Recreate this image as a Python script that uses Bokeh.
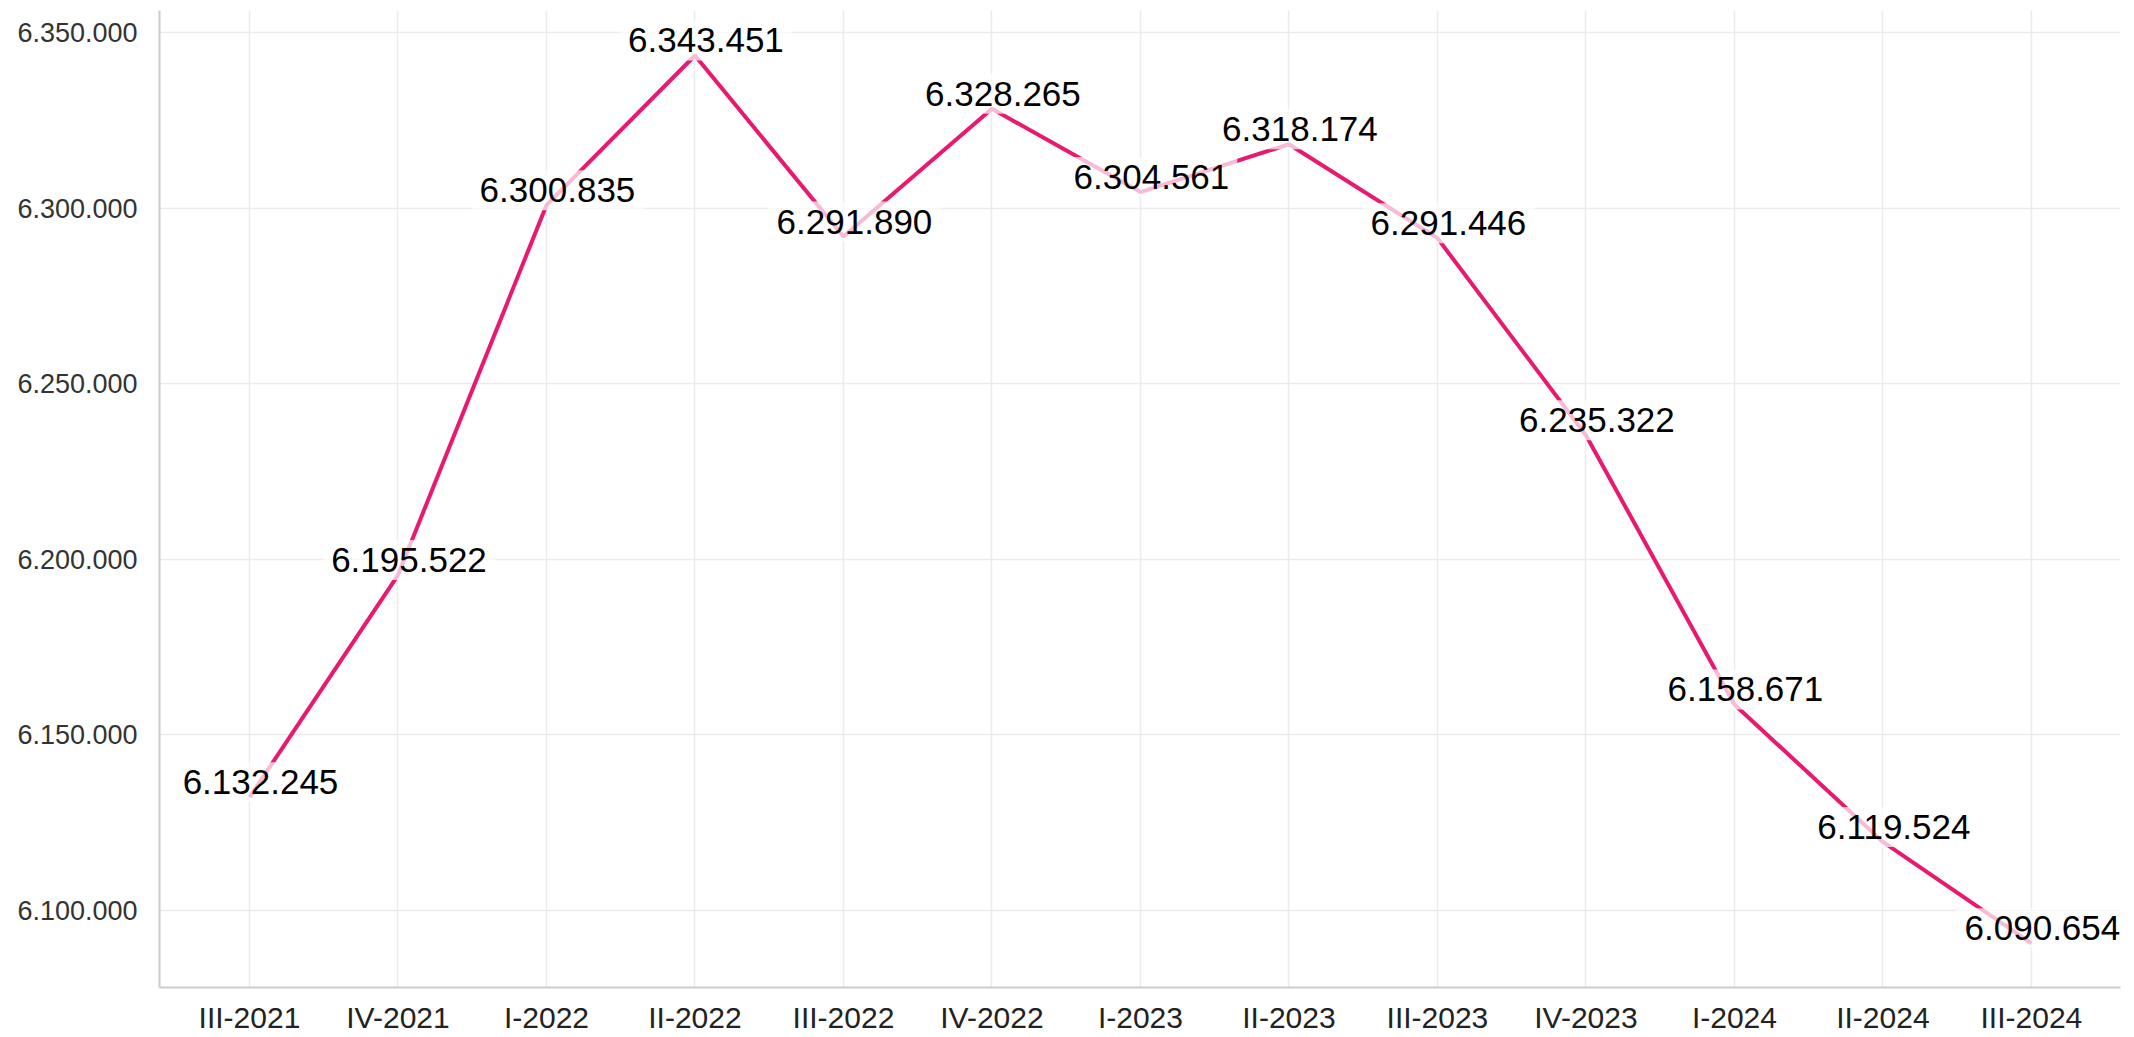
from bokeh.plotting import figure
from bokeh.models import Range1d, FixedTicker, ColumnDataSource
from bokeh.core.properties import value
from bokeh.embed import file_html
from bokeh.resources import INLINE

quarters = ["III-2021", "IV-2021", "I-2022", "II-2022", "III-2022", "IV-2022",
            "I-2023", "II-2023", "III-2023", "IV-2023", "I-2024", "II-2024", "III-2024"]
values = [6132245, 6195522, 6300835, 6343451, 6291890, 6328265,
          6304561, 6318174, 6291446, 6235322, 6158671, 6119524, 6090654]
y_ticks = [6100000, 6150000, 6200000, 6250000, 6300000, 6350000]


def fmt(v):
    return f"{v:,}".replace(",", ".")


xs = list(range(len(quarters)))
src = ColumnDataSource(dict(x=xs, y=values, label=[fmt(v) for v in values]))

p = figure(width=2134, height=1037, output_backend="svg", toolbar_location=None,
           x_range=Range1d(-0.606, len(quarters) - 1 + 0.6),
           y_range=Range1d(6078075, 6356264),
           min_border_left=159, min_border_right=14, min_border_top=10, min_border_bottom=50)
p.outline_line_color = None
p.background_fill_color = "white"

p.xaxis.ticker = FixedTicker(ticks=xs)
p.xaxis.major_label_overrides = {i: q for i, q in zip(xs, quarters)}
p.yaxis.ticker = FixedTicker(ticks=y_ticks)
p.yaxis.major_label_overrides = {t: fmt(t) for t in y_ticks}

for ax in (p.xaxis, p.yaxis):
    ax.axis_line_color = "#CCCCCC"
    ax.axis_line_width = 2
    ax.major_tick_line_color = None
    ax.minor_tick_line_color = None
    ax.major_tick_out = 0
    ax.major_tick_in = 0
    ax.minor_tick_out = 0
    ax.major_label_text_font = "Liberation Sans"

p.xaxis.major_label_text_font_size = "30px"
p.xaxis.major_label_text_color = "#222222"
p.xaxis.major_label_standoff = 13
p.yaxis.major_label_text_font_size = "27px"
p.yaxis.major_label_text_color = "#333333"
p.yaxis.major_label_standoff = 22

p.xgrid.ticker = FixedTicker(ticks=xs)
p.ygrid.ticker = FixedTicker(ticks=y_ticks)
for g in (p.xgrid, p.ygrid):
    g.grid_line_color = "#EBEBEB"
    g.grid_line_width = 1.5

p.line("x", "y", source=src, line_color="#E8196F", line_width=4)

p.text("x", "y", text="label", source=src,
       text_font=value("Liberation Sans"), text_font_size="35px",
       text_color="black", text_align="center", text_baseline="middle",
       x_offset=11, y_offset=-15,
       background_fill_color="white", background_fill_alpha=0.7, padding=8)

open("out.html", "w").write(file_html(p, INLINE))
